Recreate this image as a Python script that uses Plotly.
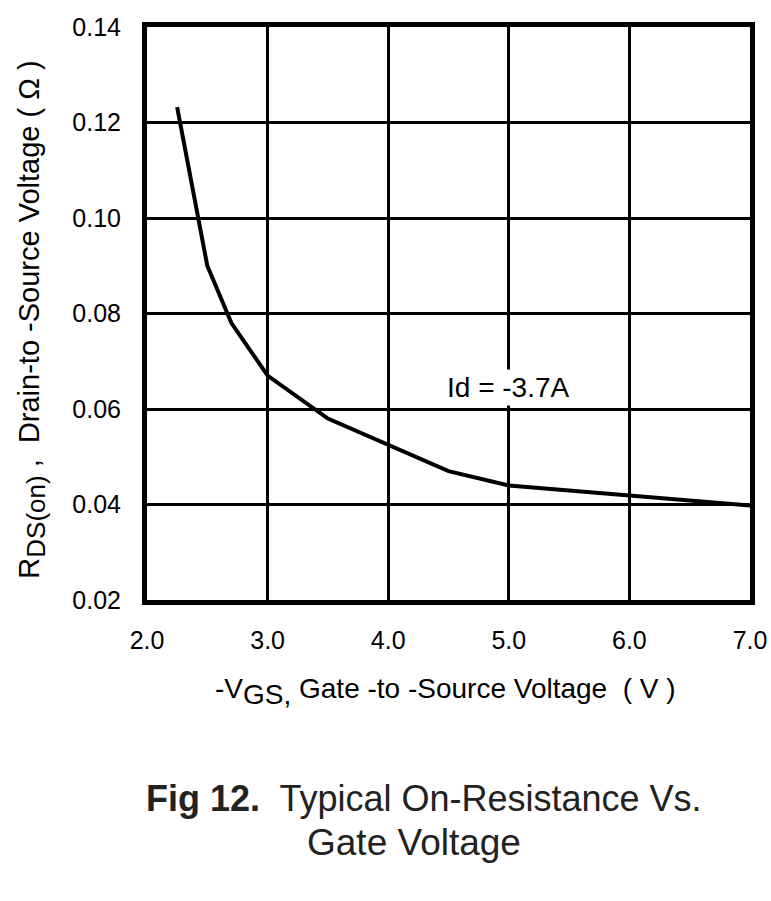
import plotly.graph_objects as go

# data
vgs = [2.25, 2.5, 2.7, 3.0, 3.5, 4.0, 4.5, 5.0, 6.0, 7.0]
rds_on = [0.1232, 0.090, 0.078, 0.067, 0.058, 0.0525, 0.047, 0.044, 0.042, 0.0398]

x_ticks = [2.0, 3.0, 4.0, 5.0, 6.0, 7.0]
y_ticks = [0.02, 0.04, 0.06, 0.08, 0.10, 0.12, 0.14]

font_family = "Liberation Sans, Arial, sans-serif"

fig = go.Figure()
fig.add_trace(go.Scatter(x=vgs, y=rds_on, mode="lines",
                         line=dict(color="black", width=4),
                         showlegend=False, hoverinfo="skip"))

fig.update_xaxes(range=[2.0, 7.0], tickvals=x_ticks,
                 ticktext=["%.1f" % v for v in x_ticks],
                 showgrid=True, gridcolor="black", gridwidth=3,
                 showline=True, linecolor="black", linewidth=5, mirror=True,
                 ticks="", ticklabelstandoff=14, zeroline=False,
                 automargin=False,
                 tickfont=dict(size=25, color="black"))
fig.update_yaxes(range=[0.02, 0.14], tickvals=y_ticks,
                 ticktext=["%.2f" % v for v in y_ticks],
                 showgrid=True, gridcolor="black", gridwidth=3,
                 showline=True, linecolor="black", linewidth=5, mirror=True,
                 ticks="", ticklabelstandoff=16, zeroline=False,
                 automargin=False,
                 tickfont=dict(size=25, color="black"))

fig.add_annotation(x=5.0, y=0.0645, xref="x", yref="y", showarrow=False,
                   text="Id = -3.7A", bgcolor="white", borderpad=2,
                   font=dict(size=28, color="black"))

# axis titles
fig.add_annotation(x=-0.19, y=0.49, xref="paper", yref="paper", showarrow=False,
                   textangle=-90, xanchor="center", yanchor="middle",
                   text="R<sub><span style='font-size:26px'>DS(on)</span></sub> ,  "
                        "Drain-to -Source Voltage ( \u03a9 )",
                   font=dict(size=29, color="black"))
fig.add_annotation(x=0.495, y=-0.16, xref="paper", yref="paper", showarrow=False,
                   xanchor="center", yanchor="middle",
                   text="-V<sub><span style='font-size:28px'>GS,</span></sub> "
                        "Gate -to -Source Voltage  ( V )",
                   font=dict(size=28, color="black"))

# caption
fig.add_annotation(x=-0.005, y=-0.347, xref="paper", yref="paper", showarrow=False,
                   xanchor="left", yanchor="middle",
                   text="<b>Fig 12.</b>  Typical On-Resistance Vs.",
                   font=dict(size=36, color="#222222"))
fig.add_annotation(x=0.262, y=-0.423, xref="paper", yref="paper", showarrow=False,
                   xanchor="left", yanchor="middle",
                   text="Gate Voltage",
                   font=dict(size=37, color="#222222"))

fig.update_layout(width=771, height=901,
                  margin=dict(l=147, r=21, t=27, b=301, autoexpand=False),
                  plot_bgcolor="white", paper_bgcolor="white",
                  font=dict(family=font_family, color="black"))

fig.write_html("out.html", config={"displayModeBar": False},
               post_script="document.body.style.margin='0';")
